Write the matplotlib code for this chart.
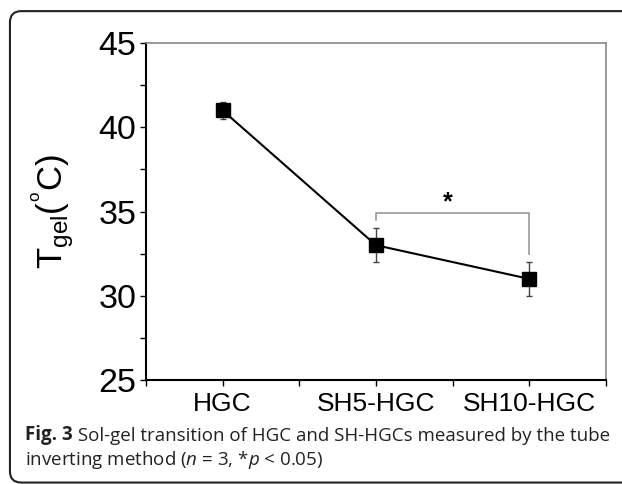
import numpy as np
import matplotlib
matplotlib.use('Agg')
from matplotlib import pyplot as plt
from matplotlib.patches import FancyBboxPatch
from matplotlib.ticker import MultipleLocator

# dados
grupos = ['HGC', 'SH5-HGC', 'SH10-HGC']
tgel = [41.0, 33.0, 31.0]
erro = [0.5, 1.0, 1.0]

plt.rcParams['font.family'] = ['Liberation Sans', 'DejaVu Sans']
plt.rcParams['mathtext.fontset'] = 'custom'
plt.rcParams['mathtext.rm'] = 'Open Sans'
plt.rcParams['mathtext.it'] = 'Open Sans:italic'
plt.rcParams['mathtext.bf'] = 'Open Sans:bold'

fig = plt.figure(figsize=(6.22, 4.84), dpi=100)
ax = fig.add_axes([0.2347, 0.2149, 0.7396, 0.6962])

x = np.arange(len(grupos)) + 0.5
ax.plot(x, tgel, color='black', lw=1.5, zorder=2)
ax.errorbar(x, tgel, yerr=erro, fmt='none', ecolor='#444444', elinewidth=1,
            capsize=2.5, capthick=1, zorder=1)
ax.plot(x, tgel, 's', color='black', ms=10, zorder=3)

ax.set_xlim(0, 3)
ax.set_ylim(25, 45)
ax.set_xticks(x)
ax.set_xticklabels(grupos)
ax.xaxis.set_minor_locator(MultipleLocator(1))
ax.yaxis.set_major_locator(MultipleLocator(5))
ax.yaxis.set_minor_locator(MultipleLocator(2.5))
ax.tick_params(axis='y', which='major', labelsize=24.5, length=4, width=1, pad=3)
ax.tick_params(axis='x', which='major', labelsize=19, length=4, width=1, pad=5)
ax.tick_params(which='minor', length=4, width=1)

for lado in ['left', 'bottom']:
    ax.spines[lado].set_linewidth(1.5)
for lado in ['top', 'right']:
    ax.spines[lado].set_color('#888888')
    ax.spines[lado].set_linewidth(1.2)

ax.set_ylabel(r'T$_{\mathregular{gel}}$(${}^{{}^{\mathregular{o}}}$C)', fontsize=25, labelpad=16)

# barra de significancia
ax.plot([1.5, 1.5, 2.5, 2.5], [34.5, 34.9, 34.9, 32.5], color='#999999', lw=1.2)
ax.text(1.97, 34.85, '*', fontsize=18, fontweight='bold', ha='center', va='bottom')

# moldura arredondada
caixa = FancyBboxPatch((0.016, 0.003), 1.2, 0.974, boxstyle='round,pad=0,rounding_size=0.018',
                       transform=fig.transFigure, fill=False, ec='#222222', lw=1.5,
                       clip_on=False, mutation_aspect=622 / 484)
fig.patches.append(caixa)

# legenda da figura
t1 = fig.text(0.04, 0.090, 'Fig. 3', fontsize=13.5, family='Open Sans', fontweight='bold',
              va='baseline', color='#222222')
ax.annotate(' Sol-gel transition of HGC and SH-HGCs measured by the tube', xy=(1, 0),
            xycoords=t1, va='bottom', fontsize=13.5, family='Open Sans', color='#222222',
            annotation_clip=False)
fig.text(0.04, 0.040, r'inverting method ($n$ = 3, *$p$ < 0.05)',
         fontsize=13.5, family='Open Sans', va='baseline', color='#222222')

plt.savefig('out.png', dpi=100)
